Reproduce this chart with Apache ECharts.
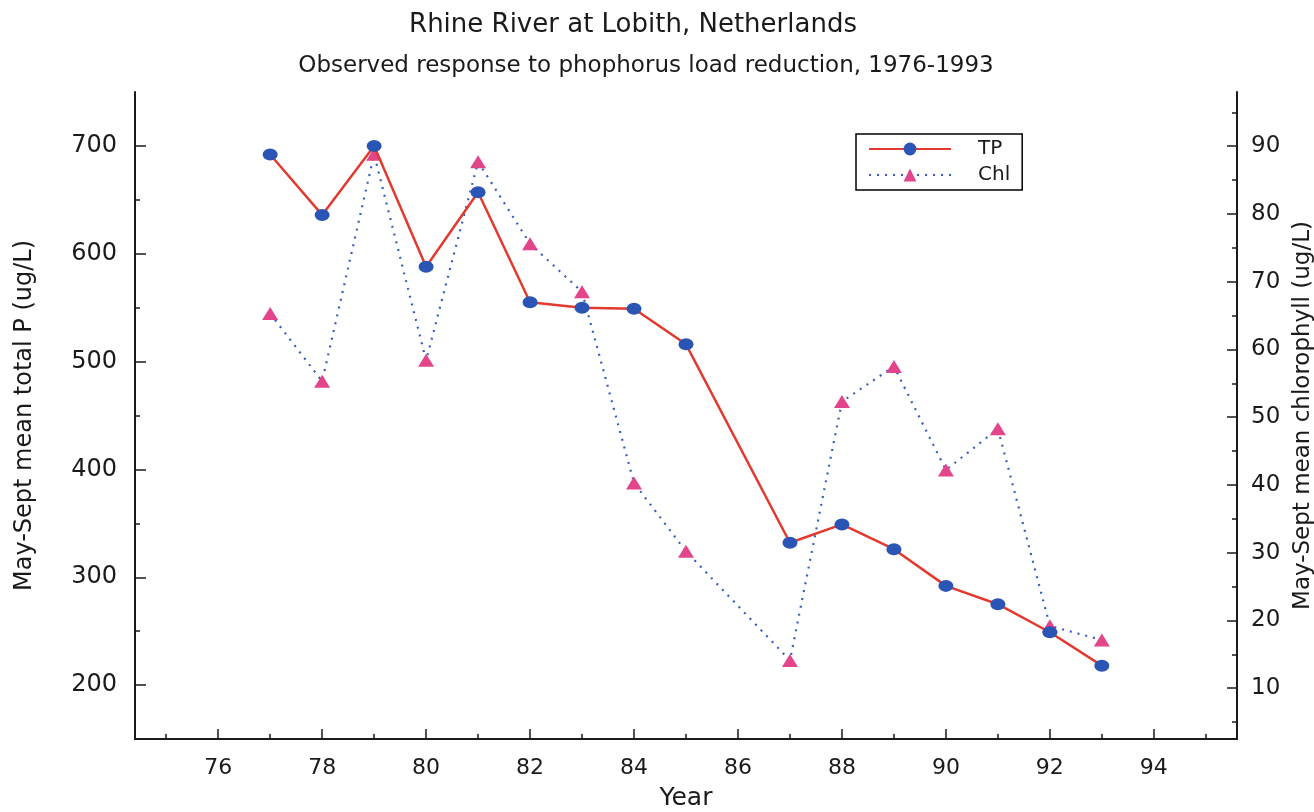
<!DOCTYPE html>
<html>
<head>
<meta charset="utf-8">
<script src="https://cdn.jsdelivr.net/npm/echarts@6/dist/echarts.min.js"></script>
<style>
html,body{margin:0;padding:0;background:#fff;}
#chart{width:1314px;height:812px;}
</style>
</head>
<body>
<div id="chart"></div>
<script>
// ---- data ----
const years = [77, 78, 79, 80, 81, 82, 83, 84, 85, 87, 88, 89, 90, 91, 92, 93];
const tpValues = [692, 636, 700, 588, 657, 555, 550, 549, 516, 332, 349, 326, 292, 275, 249, 218];
const chlValues = [65.3, 55.3, 88.8, 58.4, 87.7, 75.6, 68.5, 40.3, 30.2, 14.1, 52.3, 57.5, 42.2, 48.3, 19.2, 17.1];
const xTicks = [76, 78, 80, 82, 84, 86, 88, 90, 92, 94];
const xMinorTicks = [75, 77, 79, 81, 83, 85, 87, 89, 91, 93, 95];
const leftTicks = [200, 300, 400, 500, 600, 700];
const leftMinorTicks = [250, 350, 450, 550, 650];
const rightTicks = [10, 20, 30, 40, 50, 60, 70, 80, 90];
const rightMinorTicks = [5, 15, 25, 35, 45, 55, 65, 75, 85, 95];

const tpData = years.map((y, i) => [y, tpValues[i]]);
const chlData = years.map((y, i) => [y, chlValues[i]]);

const WIDE = 'DejaVu Sans, sans-serif';
const INK = '#1a1a1a';

const chart = echarts.init(document.getElementById('chart'), null, {renderer: 'canvas'});

const minorAxisCommon = {
  axisLine: {show: false},
  axisLabel: {show: false},
  splitLine: {show: false},
  axisTick: {show: true, inside: true, length: 5, lineStyle: {color: INK, width: 1.5}}
};

chart.setOption({
  animation: false,
  backgroundColor: '#fff',
  title: [
    {text: 'Rhine River at Lobith, Netherlands', left: 628, top: 7, textAlign: 'center',
     textStyle: {fontFamily: WIDE, fontSize: 26, fontWeight: 'normal', color: INK}},
    {text: 'Observed response to phophorus load reduction, 1976-1993', left: 641, top: 50, textAlign: 'center',
     textStyle: {fontFamily: WIDE, fontSize: 23, fontWeight: 'normal', color: INK}}
  ],
  legend: {
    orient: 'vertical',
    left: 856, top: 134,
    data: ['TP', 'Chl'],
    itemWidth: 82, itemHeight: 16,
    itemGap: 6,
    padding: [5, 12, 5, 12],
    borderColor: '#000', borderWidth: 1.5,
    textStyle: {fontFamily: WIDE, fontSize: 20, color: INK, padding: [0, 0, 0, 22]}
  },
  grid: {left: 135, right: 77, top: 92, bottom: 73, containLabel: false, outerBoundsMode: 'none'},
  xAxis: [
    {
      type: 'value', min: 74.4, max: 95.6,
      name: 'Year', nameLocation: 'middle', nameGap: 47,
      nameTextStyle: {fontFamily: WIDE, fontSize: 25, color: INK},
      axisLine: {show: true, lineStyle: {color: INK, width: 2}},
      axisTick: {show: true, inside: true, length: 10, customValues: xTicks, lineStyle: {color: INK, width: 1.5}},
      axisLabel: {customValues: xTicks, fontFamily: WIDE, fontSize: 22, color: INK, margin: 18},
      splitLine: {show: false}
    },
    Object.assign({type: 'value', min: 74.4, max: 95.6, position: 'bottom'}, minorAxisCommon,
      {axisTick: Object.assign({}, minorAxisCommon.axisTick, {customValues: xMinorTicks})})
  ],
  yAxis: [
    {
      type: 'value', position: 'left', min: 150, max: 750,
      name: 'May-Sept mean total P (ug/L)', nameLocation: 'middle', nameGap: 98, nameRotate: 90,
      nameTextStyle: {fontFamily: WIDE, fontSize: 24, color: INK},
      axisLine: {show: true, lineStyle: {color: INK, width: 2}},
      axisTick: {show: true, inside: true, length: 11, customValues: leftTicks, lineStyle: {color: INK, width: 1.5}},
      axisLabel: {customValues: leftTicks, fontFamily: WIDE, fontSize: 24, color: INK, margin: 18},
      splitLine: {show: false}
    },
    {
      type: 'value', position: 'right', min: 2.5, max: 98,
      name: 'May-Sept mean chlorophyll (ug/L)', nameLocation: 'middle', nameGap: 50, nameRotate: 90,
      nameTextStyle: {fontFamily: WIDE, fontSize: 23, color: INK},
      axisLine: {show: true, lineStyle: {color: INK, width: 2}},
      axisTick: {show: true, inside: true, length: 10, customValues: rightTicks, lineStyle: {color: INK, width: 1.5}},
      axisLabel: {customValues: rightTicks, fontFamily: WIDE, fontSize: 23, color: INK, margin: 14},
      splitLine: {show: false}
    },
    Object.assign({type: 'value', position: 'left', min: 150, max: 750}, minorAxisCommon,
      {axisTick: Object.assign({}, minorAxisCommon.axisTick, {customValues: leftMinorTicks})}),
    Object.assign({type: 'value', position: 'right', min: 2.5, max: 98}, minorAxisCommon,
      {axisTick: Object.assign({}, minorAxisCommon.axisTick, {customValues: rightMinorTicks})})
  ],
  series: [
    {
      name: 'Chl', type: 'line', xAxisIndex: 0, yAxisIndex: 1,
      data: chlData,
      symbol: 'triangle', symbolSize: [16, 13],
      itemStyle: {color: '#e2458a'},
      lineStyle: {color: '#3a5cc0', width: 2.2, type: [2, 6]},
      z: 2
    },
    {
      name: 'TP', type: 'line', xAxisIndex: 0, yAxisIndex: 0,
      data: tpData,
      symbol: 'circle', symbolSize: [15, 12],
      itemStyle: {color: '#2a55b5'},
      lineStyle: {color: '#e23a2e', width: 2.5, type: 'solid'},
      z: 3
    }
  ]
});
</script>
</body>
</html>
